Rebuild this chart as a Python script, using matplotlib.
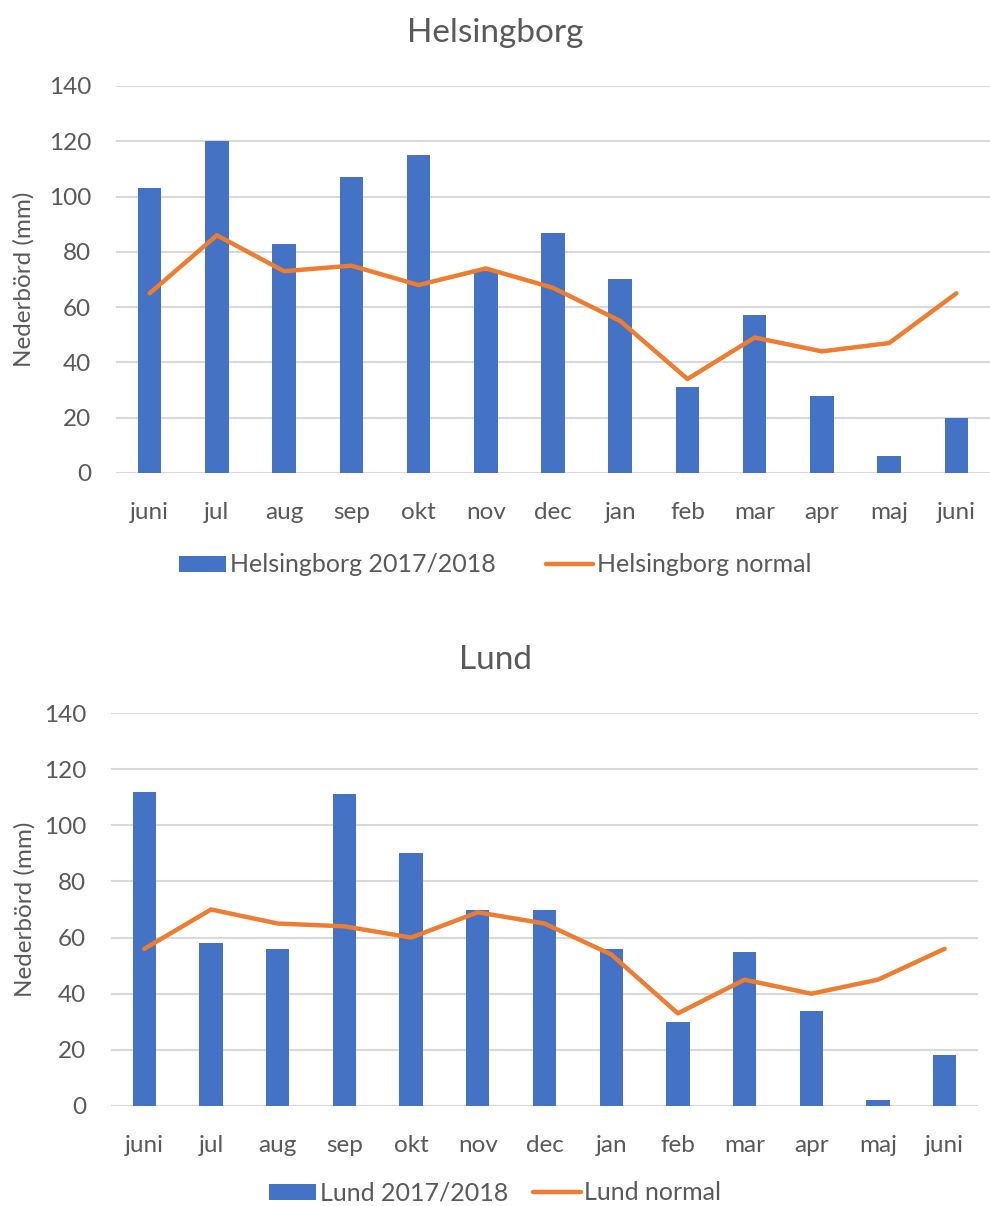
import matplotlib.pyplot as plt
import numpy as np

plt.rcParams['font.family'] = ['Lato', 'DejaVu Sans']

months = ['juni', 'jul', 'aug', 'sep', 'okt', 'nov', 'dec', 'jan', 'feb', 'mar', 'apr', 'maj', 'juni']

hbg_2017 = [103, 120, 83, 107, 115, 73, 87, 70, 31, 57, 28, 6, 20]
hbg_normal = [65, 86, 73, 75, 68, 74, 67, 55, 34, 49, 44, 47, 65]

lund_2017 = [112, 58, 56, 111, 90, 70, 70, 56, 30, 55, 34, 2, 18]
lund_normal = [56, 70, 65, 64, 60, 69, 65, 54, 33, 45, 40, 45, 56]

BLUE = '#4472C4'
ORANGE = '#ED7D31'
TEXT = '#595959'
GRID = '#D9D9D9'

W, H = 990, 1206
fig = plt.figure(figsize=(W / 100, H / 100), dpi=100)


def px_axes(left, top, right, bottom):
    # pixel box -> figure fraction
    return fig.add_axes([left / W, 1 - bottom / H, (right - left) / W, (bottom - top) / H])


def draw(ax, title, bars, line, name, title_y, legend_y, colspace, ypad):
    x = np.arange(len(months))
    b = ax.bar(x, bars, width=0.35, color=BLUE, zorder=2)
    l, = ax.plot(x, line, color=ORANGE, lw=3.2, zorder=3,
                 solid_capstyle='round', solid_joinstyle='round')
    ax.set_xlim(-0.5, len(months) - 0.5)
    ax.set_ylim(0, 140)
    ax.set_yticks(range(0, 141, 20))
    ax.set_xticks(x)
    ax.set_xticklabels(months)
    ax.grid(axis='y', color=GRID, lw=1.5, zorder=0)
    ax.set_axisbelow(True)
    for s in ['top', 'right', 'left', 'bottom']:
        ax.spines[s].set_visible(False)
    ax.tick_params(length=0, colors=TEXT, labelsize=17.5)
    ax.tick_params(axis='x', pad=21)
    ax.tick_params(axis='y', pad=18)
    ax.set_ylabel('Nederbörd (mm)', color=TEXT, fontsize=17.5, labelpad=ypad)
    fig.text(0.5, 1 - title_y / H, title, ha='center', va='center', fontsize=24, color=TEXT)
    fig.legend(handles=[b, l], labels=[name + ' 2017/2018', name + ' normal'],
               loc='center', bbox_to_anchor=(0.5, 1 - legend_y / H), ncol=2,
               frameon=False, fontsize=18, handlelength=1.9, handleheight=0.6,
               handletextpad=0.15, columnspacing=colspace, labelcolor=TEXT)


ax1 = px_axes(116, 86, 990, 473)
draw(ax1, 'Helsingborg', hbg_2017, hbg_normal, 'Helsingborg', 33, 565, 2.0, 10)

ax2 = px_axes(111, 713, 978, 1106)
draw(ax2, 'Lund', lund_2017, lund_normal, 'Lund', 660, 1193, 1.0, 6)

fig.savefig('out.png', dpi=100)
